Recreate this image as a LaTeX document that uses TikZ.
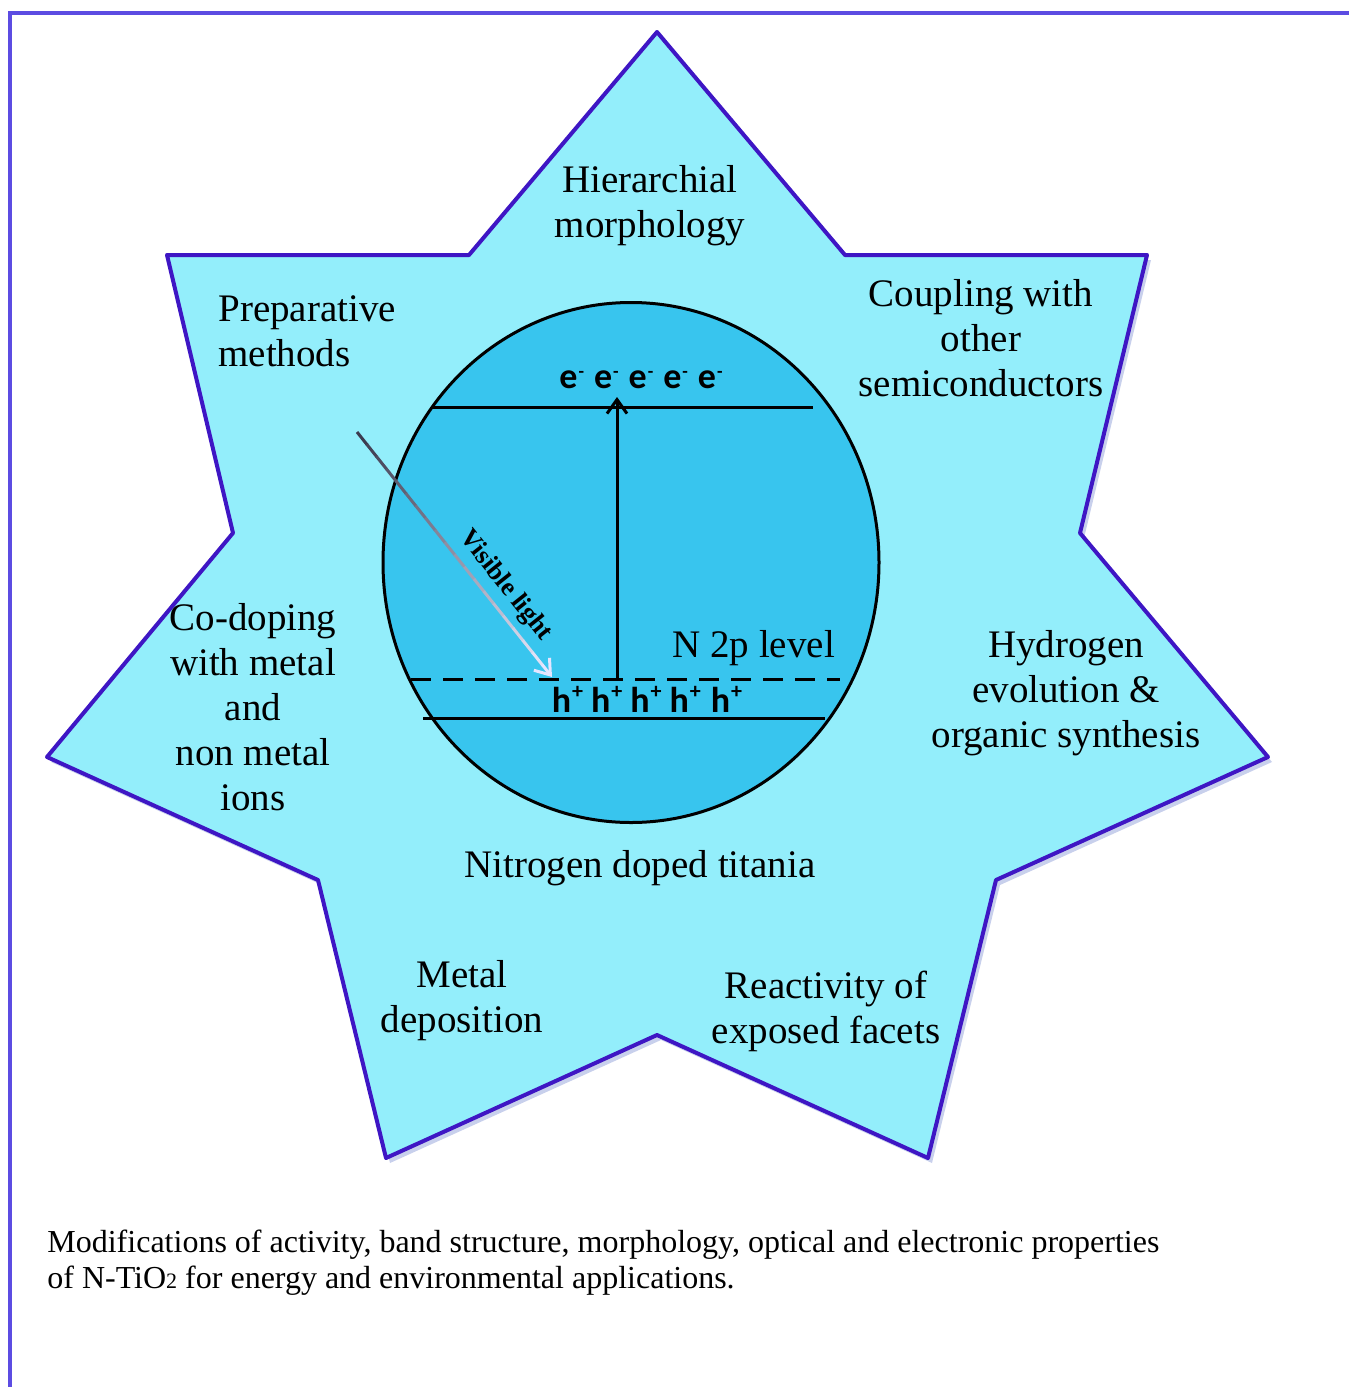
\documentclass[tikz,border=0pt]{standalone}
\usepackage{fontspec}
\setmainfont{Liberation Serif}
\newfontfamily\bandfont{Carlito}
\usetikzlibrary{shapes.geometric,arrows.meta,calc}
\definecolor{framecol}{RGB}{92,76,226}
\definecolor{starline}{RGB}{62,22,196}
\definecolor{starfill}{RGB}{147,238,251}
\definecolor{corefill}{RGB}{56,197,238}
\definecolor{shadowcol}{RGB}{200,208,236}
\newcommand\elec{e\hspace{0.5pt}\raisebox{.62ex}{\fontsize{9}{9}\selectfont -}}
\newcommand\hole{h\hspace{0.5pt}\raisebox{.8ex}{\fontsize{11}{11}\selectfont +}}
\begin{document}
\begin{tikzpicture}[x=0.5pt,y=-0.5pt,
  lbl/.style={font=\fontsize{19.5}{22.5}\selectfont, align=center, inner sep=0pt, anchor=base},
  bandline/.style={line width=1.5pt},
  bandtext/.style={font=\bandfont\bfseries\fontsize{18}{20}\selectfont, inner sep=0pt, anchor=base},
  framestyle/.style={framecol, line width=2pt},
  startstyle/.style={draw=starline, fill=starfill, line width=2pt, line join=round},
  ]
\useasboundingbox (0,0) rectangle (1349,1387);
% frame
\coordinate (fTR) at (1349,13);
\coordinate (fTL) at (10,13);
\coordinate (fBL) at (10,1387);
\draw[framestyle] (fTR) -- (fTL) -- (fBL);
% star
\def\starpath{(657,32) -- (845,255) -- (1147,255) -- (1080,533) -- (1268,757) -- (996,880) -- (928,1158) -- (657,1035) -- (386,1158) -- (318,880) -- (47,757) -- (233,533) -- (167,255) -- (469,255) -- cycle}
\fill[shadowcol, shift={(4,5)}] \starpath;
\path[startstyle] \starpath;
% core ellipse
\node[ellipse, draw=black, fill=corefill, line width=1.5pt, inner sep=0pt,
  minimum width=248pt, minimum height=260pt] (core) at (631,562.5) {};
% band lines
\coordinate (cbL) at (432,407);
\coordinate (cbR) at (813,407);
\coordinate (nL) at (411,679);
\coordinate (nR) at (840,679);
\coordinate (vbL) at (423,718);
\coordinate (vbR) at (825,718);
\draw[bandline] (cbL) -- (cbR);
\draw[bandline, dash pattern=on 10pt off 6pt] (nL) -- (nR);
\draw[bandline] (vbL) -- (vbR);
% excitation arrow
\coordinate (exA) at (617,679);
\coordinate (exB) at (617,397);
\draw[bandline, -{Straight Barb[length=7pt,width=10pt,line width=1.5pt]}] (exA) -- (exB);
% band texts
\node[bandtext] (elecs) at (641,388) {\elec\hspace{5pt}\elec\hspace{5pt}\elec\hspace{5pt}\elec\hspace{5pt}\elec};
\node[bandtext] (holes) at (647,712) {\hole\hspace{4pt}\hole\hspace{4pt}\hole\hspace{4pt}\hole\hspace{5pt}\hole};
\node[lbl, anchor=base west] (n2p) at (672,657) {N 2p level};
% visible light arrow
\coordinate (vlA) at (357,432);
\coordinate (vlB) at (552,677);
\foreach \i in {0,...,18}{
  \pgfmathsetmacro\pc{75*(1-\i/19)}
  \draw[line width=1.5pt, color=black!\pc!white!92!blue]
    ($(vlA)!{\i/20}!(vlB)$) -- ($(vlA)!{(\i+1.05)/20}!(vlB)$);
}
\draw[line width=1.5pt, color=white!90!blue, -{Straight Barb[length=7pt,width=10pt,line width=1.5pt]}]
  ($(vlA)!{19/20}!(vlB)$) -- (vlB);
\path (vlA) -- (vlB) node[pos=0.68, sloped, above=4pt, font=\bfseries\fontsize{13}{15}\selectfont, inner sep=0pt] (vltext) {Visible light};
% star labels (anchor = baseline of the last line)
\node[lbl] (hier) at (650,237) {Hierarchial\\morphology};
\node[lbl, align=left, anchor=base west] (prep) at (218,366) {Preparative\\methods};
\node[lbl] (coup) at (981,396) {Coupling with\\other\\semiconductors};
\node[lbl] (codop) at (253,810) {Co-doping\\with metal\\and\\non metal\\ions};
\node[lbl] (hydro) at (1066,747) {Hydrogen\\evolution \&\\organic synthesis};
\node[lbl] (ndt) at (640,877) {Nitrogen doped titania};
\node[lbl] (metal) at (462,1032) {Metal\\deposition};
\node[lbl] (react) at (826,1043) {Reactivity of\\exposed facets};
% caption
\node[font=\fontsize{16}{18}\selectfont, align=left, inner sep=0pt, anchor=base west] (caption) at (47,1288)
  {Modifications of activity, band structure, morphology, optical and electronic properties\\
   of N-TiO{\fontsize{11}{11}\selectfont 2} for energy and environmental applications.};
\end{tikzpicture}
\end{document}
